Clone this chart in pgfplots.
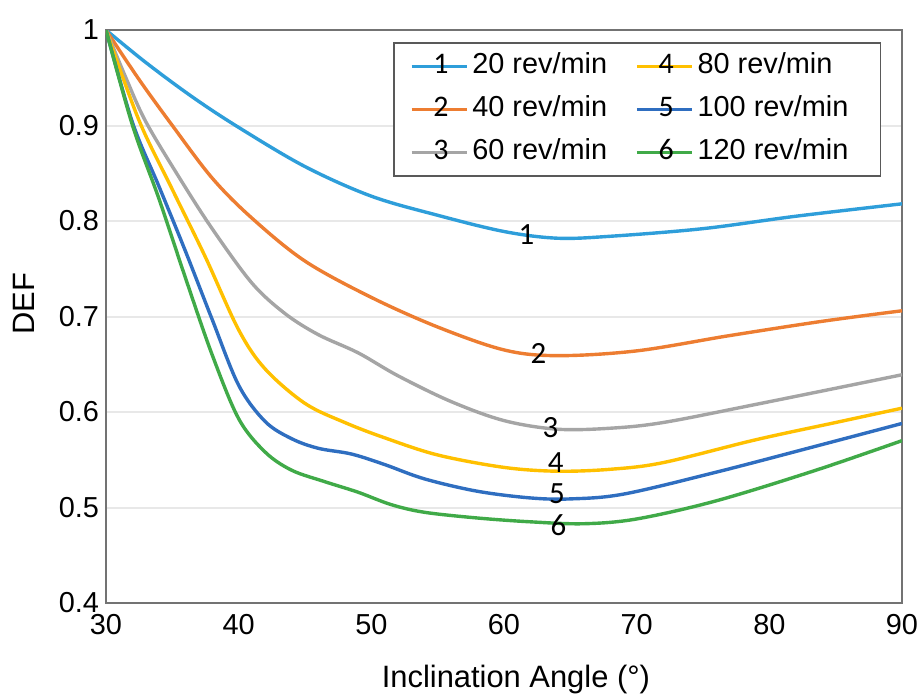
\documentclass[border=0pt]{standalone}
\usepackage{fontspec}
\setmainfont{Liberation Sans}
\newfontfamily\numfont{Carlito}
\usepackage{pgfplots}
\pgfplotsset{compat=1.18}

\definecolor{c1}{RGB}{46,158,218}
\definecolor{c2}{RGB}{237,125,49}
\definecolor{c3}{RGB}{165,165,165}
\definecolor{c4}{RGB}{255,192,0}
\definecolor{c5}{RGB}{47,110,192}
\definecolor{c6}{RGB}{64,170,72}

\pgfplotsset{
  leg/.style={legend image code/.code={%
    \draw[##1] (0bp,0bp) -- (27.5bp,0bp);
    \node[black,inner sep=0pt,font=\numfont\fontsize{15}{15}\selectfont] at (10bp,0bp) {#1};}},
  curve/.style={line width=1.7bp, smooth, tension=0.55, no marks},
}

\begin{document}
\begin{tikzpicture}
\begin{axis}[
  scale only axis, width=398bp, height=286.5bp,
  xmin=30, xmax=90, ymin=0.4, ymax=1,
  xtick={30,40,50,60,70,80,90},
  ytick={0.4,0.5,0.6,0.7,0.8,0.9,1},
  major tick length=0pt,
  ymajorgrids, grid style={color=black!9, line width=1bp},
  axis line style={draw=black!55, line width=1.3bp},
  /pgf/number format/assume math mode=true,
  tick label style={font=\fontsize{14.5}{14.5}\selectfont},
  xticklabel style={yshift=-2.2bp},
  label style={font=\fontsize{15.5}{15.5}\selectfont},
  xlabel={Inclination Angle (°)},
  xlabel style={at={(axis description cs:0.515,-0.1466)}, anchor=base},
  ylabel={DEF},
  ylabel style={at={(axis description cs:-0.103,0.522)}, anchor=center},
  legend columns=2,
  legend style={at={(rel axis cs:0.3606,0.979)}, anchor=north west,
    draw=black!65, line width=0.9bp, inner xsep=8bp, inner ysep=3bp,
    font=\fontsize{14.5}{14.5}\selectfont,
    nodes={text height=10.5bp, text depth=3bp},
    row sep=4bp,
    /tikz/column 2/.style={column sep=12bp}},
  legend cell align=left,
]
\addplot[curve, c1, forget plot] coordinates {(30,1.000)(33,0.966)(36.5,0.930)(40,0.898)(45,0.857)(50,0.826)(55,0.806)(60,0.789)(64,0.782)(68,0.784)(75,0.792)(82,0.805)(90,0.818)};
\addplot[curve, c2, forget plot] coordinates {(30,1.000)(32.5,0.948)(35,0.900)(38,0.845)(41,0.803)(45,0.758)(50,0.720)(55,0.689)(60,0.665)(64,0.659)(70,0.664)(77,0.680)(84,0.695)(90,0.706)};
\addplot[curve, c3, forget plot] coordinates {(30,1.000)(31.5,0.950)(33,0.904)(35.5,0.846)(38,0.792)(41,0.735)(43.5,0.703)(46,0.681)(49,0.662)(52,0.638)(56,0.611)(60,0.591)(64,0.582)(68,0.583)(72,0.589)(79,0.608)(90,0.639)};
\addplot[curve, c4, forget plot] coordinates {(30,1.000)(32.5,0.905)(35,0.833)(37.5,0.762)(40,0.686)(42,0.645)(45,0.609)(48,0.589)(51,0.573)(55,0.555)(60,0.542)(64,0.538)(68,0.540)(72,0.547)(79,0.571)(85,0.589)(90,0.604)};
\addplot[curve, c5, forget plot] coordinates {(30,1.000)(32,0.903)(34,0.836)(36,0.768)(38,0.697)(40,0.628)(42,0.590)(44,0.572)(46,0.562)(48.5,0.556)(51,0.545)(54,0.530)(58,0.517)(62,0.510)(65,0.509)(69,0.514)(76,0.537)(84,0.566)(90,0.588)};
\addplot[curve, c6, forget plot] coordinates {(30,1.000)(32,0.900)(34,0.823)(36,0.740)(38,0.660)(40,0.593)(42,0.558)(44,0.539)(46.5,0.527)(49,0.516)(51.5,0.503)(54,0.495)(58,0.489)(62,0.485)(66,0.483)(70,0.488)(76,0.507)(83.5,0.539)(90,0.570)};

\addlegendimage{c1, line width=1.7bp, leg=1}\addlegendentry{20 rev/min}
\addlegendimage{c4, line width=1.7bp, leg=4}\addlegendentry{80 rev/min\hspace*{6bp}}
\addlegendimage{c2, line width=1.7bp, leg=2}\addlegendentry{40 rev/min}
\addlegendimage{c5, line width=1.7bp, leg=5}\addlegendentry{100 rev/min\hspace*{6bp}}
\addlegendimage{c3, line width=1.7bp, leg=3}\addlegendentry{60 rev/min}
\addlegendimage{c6, line width=1.7bp, leg=6}\addlegendentry{120 rev/min\hspace*{6bp}}

\begin{scope}[every node/.style={black, inner sep=0pt, font=\numfont\fontsize{15.5}{15.5}\selectfont}]
\node at (axis cs:61.7,0.786) {1};
\node at (axis cs:62.6,0.661) {2};
\node at (axis cs:63.5,0.584) {3};
\node at (axis cs:63.9,0.547) {4};
\node at (axis cs:64.0,0.514) {5};
\node at (axis cs:64.1,0.481) {6};
\end{scope}
\end{axis}
\pgfresetboundingbox
\path[use as bounding box] (-53bp,-46bp) rectangle (408.5bp,301.5bp);
\end{tikzpicture}
\end{document}
